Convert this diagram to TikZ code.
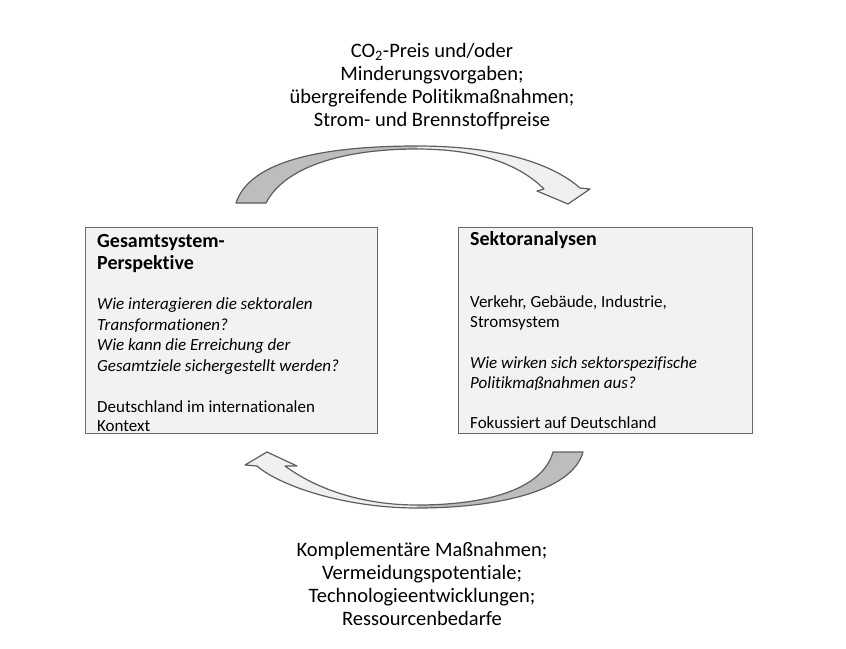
\documentclass[tikz,border=0pt]{standalone}
\usepackage{fontspec}
\setmainfont{Carlito}[Ligatures={NoCommon}]
\definecolor{boxfill}{HTML}{F2F2F2}
\definecolor{boxline}{HTML}{6A6A6A}
\definecolor{arrdark}{HTML}{BDBDBD}
\definecolor{arrlight}{HTML}{F0F0F0}
\definecolor{arrline}{HTML}{5E5E5E}
\begin{document}
\begin{tikzpicture}[x=1pt,y=-1pt,
  panel/.style={draw=boxline, fill=boxfill, line width=1.4pt, anchor=north west, inner sep=0pt},
  bodytext/.style={anchor=base west, inner sep=0pt, font=\fontsize{17}{20}\selectfont},
  bodyital/.style={bodytext, font=\fontsize{17}{20}\selectfont\itshape},
  titletext/.style={anchor=base west, inner sep=0pt, font=\fontsize{20}{23}\selectfont\bfseries},
  labeltext/.style={anchor=base, inner sep=0pt, font=\fontsize{20.5}{23}\selectfont},
  arrowout/.style={draw=arrline, line width=1.2pt, line join=round}]
\useasboundingbox (0,0) rectangle (846,648);
\fill[white] (0,0) rectangle (846,648);

% boxes
\node[panel, minimum width=292pt, minimum height=206pt] (leftbox) at (85,227) {};
\node[panel, minimum width=294pt, minimum height=206pt] (rightbox) at (458,227) {};

% left box text
\node[titletext] (lt1) at (97,247) {Gesamtsystem-};
\node[titletext] (lt2) at (97,269) {Perspektive};
\node[bodyital] (lq1) at (97,309) {Wie interagieren die sektoralen};
\node[bodyital] (lq2) at (97,330) {Transformationen?};
\node[bodyital] (lq3) at (97,350) {Wie kann die Erreichung der};
\node[bodyital] (lq4) at (97,371) {Gesamtziele sichergestellt werden?};
\node[bodytext] (ld1) at (97,412) {Deutschland im internationalen};
\node[bodytext] (ld2) at (97,431) {Kontext};

% right box text
\node[titletext] (rt1) at (470,245) {Sektoranalysen};
\node[bodytext] (rs1) at (470,307) {Verkehr, Gebäude, Industrie,};
\node[bodytext] (rs2) at (470,327) {Stromsystem};
\node[bodyital] (rq1) at (470,368) {Wie wirken sich sektorspezifische};
\node[bodyital] (rq2) at (470,388) {Politikmaßnahmen aus?};
\node[bodytext] (rf1) at (470,428) {Fokussiert auf Deutschland};

% top label
\node[labeltext] (tl1) at (432,57) {CO\textsubscript{2}-Preis und/oder};
\node[labeltext] (tl2) at (432,80) {Minderungsvorgaben;};
\node[labeltext] (tl3) at (432,103) {übergreifende Politikmaßnahmen;};
\node[labeltext] (tl4) at (432,126) {Strom- und Brennstoffpreise};

% bottom label
\node[labeltext] (bl1) at (422,556) {Komplementäre Maßnahmen;};
\node[labeltext] (bl2) at (422,579) {Vermeidungspotentiale;};
\node[labeltext] (bl3) at (422,602) {Technologieentwicklungen;};
\node[labeltext] (bl4) at (422,625) {Ressourcenbedarfe};

% top curved arrow
\fill[arrlight] (236,203) .. controls (250,160) and (325,146) .. (417,146)
  .. controls (490,146) and (548,160) .. (580,188) -- (590,189) -- (568,204)
  -- (537,191) -- (544,189) .. controls (520,165) and (480,149) .. (417,149)
  .. controls (345,149) and (285,166) .. (266,203) -- cycle;
\fill[arrdark] (236,203) .. controls (250,160) and (325,146) .. (417,146)
  -- (417,149) .. controls (345,149) and (285,166) .. (266,203) -- cycle;
\draw[arrowout] (236,203) .. controls (250,160) and (325,146) .. (417,146)
  .. controls (490,146) and (548,160) .. (580,188) -- (590,189) -- (568,204)
  -- (537,191) -- (544,189) .. controls (520,165) and (480,149) .. (417,149)
  .. controls (345,149) and (285,166) .. (266,203) -- cycle;

% bottom curved arrow
\fill[arrlight] (583,452) .. controls (572,492) and (495,508) .. (417,508)
  .. controls (345,508) and (280,486) .. (257,466) -- (245,465) -- (267,452)
  -- (297,466) -- (285,466) .. controls (315,488) and (360,505) .. (417,505)
  .. controls (490,505) and (543,488) .. (553,452) -- cycle;
\fill[arrdark] (583,452) .. controls (572,492) and (495,508) .. (417,508)
  -- (417,505) .. controls (490,505) and (543,488) .. (553,452) -- cycle;
\draw[arrowout] (583,452) .. controls (572,492) and (495,508) .. (417,508)
  .. controls (345,508) and (280,486) .. (257,466) -- (245,465) -- (267,452)
  -- (297,466) -- (285,466) .. controls (315,488) and (360,505) .. (417,505)
  .. controls (490,505) and (543,488) .. (553,452) -- cycle;
\end{tikzpicture}
\end{document}
